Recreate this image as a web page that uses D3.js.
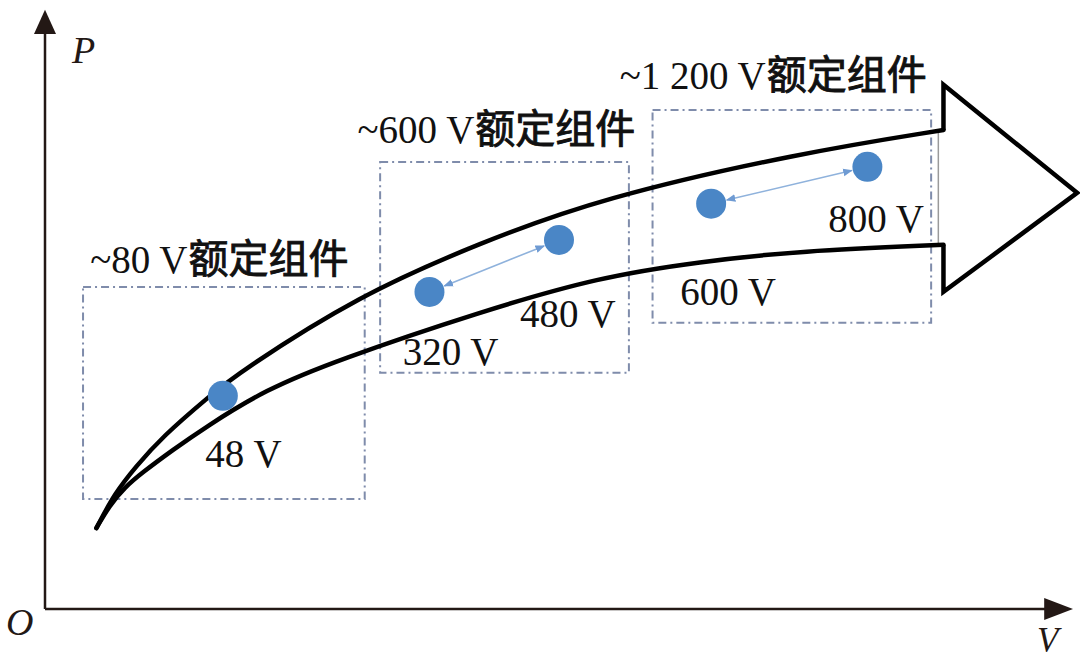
<!DOCTYPE html>
<html>
<head>
<meta charset="utf-8">
<script src="https://cdn.jsdelivr.net/npm/d3@7"></script>
<style>
  body { margin: 0; background: #fff; }
  svg { display: block; }
  .lat { font-family: "Liberation Serif", "DejaVu Serif", serif; }
  .cjk { font-family: "Noto Sans CJK SC", sans-serif; font-weight: 400; stroke: #111; stroke-width: 0.9px; }
</style>
</head>
<body>
<svg width="1080" height="661"></svg>
<script>
// ===============================================================================================================
// =========================================== DATA (abstract V / P units 0-100) =================================
// ===============================================================================================================
const upperCurve = [[5.0,13.4],[6.8,19.2],[8.8,23.5],[11.4,28.5],[15.9,35.1],[18.8,39.1],[30.6,52.0],
                    [42.3,60.6],[54.0,68.0],[73.4,75.5],[87.4,79.3]];
const lowerCurve = [[5.0,13.4],[6.3,17.2],[7.8,20.2],[9.4,22.5],[12.4,26.3],[15.6,30.1],[21.4,36.3],
                    [28.4,41.2],[42.3,49.2],[54.0,55.0],[63.7,57.5],[73.4,59.3],[87.4,60.3]];
const arrowHead  = [[87.4,79.3],[87.4,86.8],[100.4,68.9],[87.4,52.5],[87.4,60.3]];

const voltages   = ["48 V", "320 V", "480 V", "600 V", "800 V"];
const pointV     = [17.3, 37.4, 50.0, 64.8, 80.0];
const pointP     = [35.3, 52.5, 61.1, 67.1, 73.2];
const labelV     = [15.6, 34.8, 46.2, 61.8, 76.2];
const labelP     = [23.5, 40.4, 46.7, 50.3, 62.4];

// which points are linked by a double arrow
const links = [[1,2],[3,4]];

const groups     = ["~80 V", "~600 V", "~1 200 V"];
const groupBox   = [[3.7,18.2,31.1,53.3],[32.6,39.1,56.8,74.0],[59.1,47.4,86.2,82.6]];
const groupLabel = [[4.4,55.6],[30.4,77.2],[55.9,86.1]];

// ===============================================================================================================
// ================================================ DRAW & PLOT ==================================================
// ===============================================================================================================
const svg = d3.select("svg");
const x = d3.scaleLinear().domain([0,100]).range([45,1073]);
const y = d3.scaleLinear().domain([0,100]).range([609,5]);

// @ axes
const axisCol = "#231815";
svg.append("line")
  .attr("x1", x(0)).attr("y1", y(0)).attr("x2", x(0)).attr("y2", y(95.5))
  .attr("stroke", axisCol).attr("stroke-width", 2.5);
svg.append("line")
  .attr("x1", x(0)).attr("y1", y(0)).attr("x2", x(97.5)).attr("y2", y(0))
  .attr("stroke", axisCol).attr("stroke-width", 2.5);
svg.append("path")
  .attr("d", `M${x(0)-11},${y(95.2)} L${x(0)},${y(99.2)} L${x(0)+11},${y(95.2)} Z`)
  .attr("fill", axisCol);
svg.append("path")
  .attr("d", `M${x(97.2)},${y(0)-11} L${x(100)},${y(0)} L${x(97.2)},${y(0)+11} Z`)
  .attr("fill", axisCol);

svg.append("text").attr("class","lat").attr("x", 72).attr("y", 63)
  .style("font-size","38px").style("font-style","italic").attr("fill", axisCol).text("P");
svg.append("text").attr("class","lat").attr("x", 6).attr("y", 635)
  .style("font-size","38px").style("font-style","italic").attr("fill", axisCol).text("O");
svg.append("text").attr("class","lat").attr("x", 1037).attr("y", 652)
  .style("font-size","35px").style("font-style","italic").attr("fill", axisCol).text("V");

// @ dash-dot boxes
svg.selectAll(".gbox")
  .data(groupBox)
  .enter().append("rect")
  .attr("class","gbox")
  .attr("x", d => x(d[0]))
  .attr("y", d => y(d[3]))
  .attr("width", d => x(d[2]) - x(d[0]))
  .attr("height", d => y(d[1]) - y(d[3]))
  .attr("fill","none")
  .attr("stroke","#7f8cab")
  .attr("stroke-width",2)
  .attr("stroke-dasharray","8,4,2,4");

// @ group titles
const gt = svg.selectAll(".gtitle")
  .data(groups)
  .enter().append("text")
  .attr("class","gtitle")
  .attr("x", (d,i) => x(groupLabel[i][0]))
  .attr("y", (d,i) => y(groupLabel[i][1]))
  .attr("fill","#111");
gt.append("tspan").attr("class","lat").style("font-size","39px").text(d => d);
gt.append("tspan").attr("class","cjk").style("font-size","40px").attr("dx", 1).text("额定组件");

// @ big arrow
const line = d3.line().x(d => x(d[0])).y(d => y(d[1])).curve(d3.curveBasis);

svg.append("line")
  .attr("x1", x(86.9)).attr("y1", y(79.3)).attr("x2", x(86.9)).attr("y2", y(60.3))
  .attr("stroke","#9a9a9a").attr("stroke-width",1.5);

svg.append("path")
  .attr("d", d3.line().x(d => x(d[0])).y(d => y(d[1]))(arrowHead))
  .attr("fill","#fff").attr("stroke","#000").attr("stroke-width",4.5)
  .attr("stroke-linejoin","miter");

svg.append("path").attr("d", line(upperCurve))
  .attr("fill","none").attr("stroke","#000").attr("stroke-width",4.5).attr("stroke-linecap","round");
svg.append("path").attr("d", line(lowerCurve))
  .attr("fill","none").attr("stroke","#000").attr("stroke-width",4.5).attr("stroke-linecap","round");

// @ double arrows between points
const defs = svg.append("defs");
defs.append("marker").attr("id","ah")
  .attr("viewBox","0 0 10 10").attr("refX",9).attr("refY",5)
  .attr("markerWidth",6).attr("markerHeight",6).attr("orient","auto-start-reverse")
  .append("path").attr("d","M0,1 L10,5 L0,9 Z").attr("fill","#6f9bd3");

const R = 15;
svg.selectAll(".link")
  .data(links)
  .enter().append("line")
  .attr("class","link")
  .each(function(d) {
    const x1 = x(pointV[d[0]]), y1 = y(pointP[d[0]]);
    const x2 = x(pointV[d[1]]), y2 = y(pointP[d[1]]);
    const len = Math.hypot(x2-x1, y2-y1);
    const ux = (x2-x1)/len, uy = (y2-y1)/len;
    d3.select(this)
      .attr("x1", x1 + ux*(R+1)).attr("y1", y1 + uy*(R+1))
      .attr("x2", x2 - ux*(R+1)).attr("y2", y2 - uy*(R+1));
  })
  .attr("stroke","#8fb2dc").attr("stroke-width",1.6)
  .attr("marker-start","url(#ah)").attr("marker-end","url(#ah)");

// @ points
svg.selectAll(".pt")
  .data(voltages)
  .enter().append("circle")
  .attr("class","pt")
  .attr("cx", (d,i) => x(pointV[i]))
  .attr("cy", (d,i) => y(pointP[i]))
  .attr("r", R)
  .attr("fill","#4a86c6");

svg.selectAll(".vlab")
  .data(voltages)
  .enter().append("text")
  .attr("class","lat vlab")
  .attr("x", (d,i) => x(labelV[i]))
  .attr("y", (d,i) => y(labelP[i]))
  .style("font-size","39px")
  .attr("fill","#111")
  .text(d => d);
</script>
</body>
</html>
